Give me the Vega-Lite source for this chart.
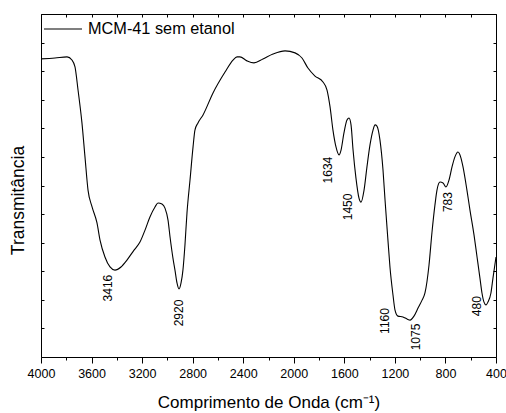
{
  "$schema": "https://vega.github.io/schema/vega-lite/v6.json",
  "width": 455,
  "height": 343,
  "autosize": {"type": "none"},
  "padding": {"left": 41, "top": 14, "right": 10, "bottom": 56},
  "background": "white",
  "config": {
    "view": {"stroke": "#000", "strokeWidth": 1},
    "font": "Liberation Sans",
    "axis": {"grid": false, "domain": false, "tickColor": "#000", "labelColor": "#000", "titleColor": "#000", "labelFont": "Liberation Sans", "titleFont": "Liberation Sans", "titleFontWeight": "normal"}
  },
  "datasets": {
    "spectrum": [
      {"wn": 4000, "t": 10.43}, {"wn": 3889, "t": 10.46}, {"wn": 3794, "t": 10.5}, {"wn": 3755, "t": 10.39},
      {"wn": 3731, "t": 10.15}, {"wn": 3707, "t": 9.34}, {"wn": 3676, "t": 8.19}, {"wn": 3652, "t": 7.0},
      {"wn": 3628, "t": 5.84}, {"wn": 3596, "t": 5.25}, {"wn": 3557, "t": 4.69}, {"wn": 3533, "t": 4.09},
      {"wn": 3494, "t": 3.5}, {"wn": 3454, "t": 3.15}, {"wn": 3415, "t": 3.04}, {"wn": 3367, "t": 3.15},
      {"wn": 3320, "t": 3.39}, {"wn": 3264, "t": 3.74}, {"wn": 3217, "t": 4.02}, {"wn": 3177, "t": 4.44},
      {"wn": 3138, "t": 4.9}, {"wn": 3098, "t": 5.25}, {"wn": 3074, "t": 5.39}, {"wn": 3043, "t": 5.35},
      {"wn": 3019, "t": 5.21}, {"wn": 2995, "t": 4.79}, {"wn": 2979, "t": 4.2}, {"wn": 2956, "t": 3.46},
      {"wn": 2940, "t": 3.04}, {"wn": 2924, "t": 2.59}, {"wn": 2908, "t": 2.38}, {"wn": 2892, "t": 2.59},
      {"wn": 2877, "t": 3.04}, {"wn": 2861, "t": 3.92}, {"wn": 2845, "t": 5.04}, {"wn": 2821, "t": 6.19},
      {"wn": 2797, "t": 7.35}, {"wn": 2782, "t": 7.94}, {"wn": 2758, "t": 8.19}, {"wn": 2718, "t": 8.47},
      {"wn": 2639, "t": 9.24}, {"wn": 2544, "t": 9.97}, {"wn": 2481, "t": 10.39}, {"wn": 2449, "t": 10.5},
      {"wn": 2426, "t": 10.5}, {"wn": 2370, "t": 10.36}, {"wn": 2315, "t": 10.29}, {"wn": 2244, "t": 10.43},
      {"wn": 2164, "t": 10.6}, {"wn": 2069, "t": 10.71}, {"wn": 1990, "t": 10.64}, {"wn": 1935, "t": 10.46},
      {"wn": 1888, "t": 10.11}, {"wn": 1832, "t": 9.83}, {"wn": 1769, "t": 9.62}, {"wn": 1737, "t": 9.34},
      {"wn": 1713, "t": 8.75}, {"wn": 1690, "t": 7.94}, {"wn": 1666, "t": 7.35}, {"wn": 1642, "t": 7.07},
      {"wn": 1626, "t": 7.24}, {"wn": 1603, "t": 7.84}, {"wn": 1579, "t": 8.29}, {"wn": 1563, "t": 8.36},
      {"wn": 1547, "t": 8.12}, {"wn": 1531, "t": 7.24}, {"wn": 1508, "t": 6.26}, {"wn": 1484, "t": 5.56},
      {"wn": 1468, "t": 5.42}, {"wn": 1444, "t": 5.84}, {"wn": 1421, "t": 6.65}, {"wn": 1397, "t": 7.42},
      {"wn": 1373, "t": 7.94}, {"wn": 1357, "t": 8.12}, {"wn": 1342, "t": 8.08}, {"wn": 1318, "t": 7.59},
      {"wn": 1294, "t": 6.54}, {"wn": 1278, "t": 5.49}, {"wn": 1255, "t": 4.09}, {"wn": 1239, "t": 3.15},
      {"wn": 1215, "t": 2.17}, {"wn": 1199, "t": 1.64}, {"wn": 1176, "t": 1.43}, {"wn": 1136, "t": 1.4},
      {"wn": 1104, "t": 1.33}, {"wn": 1080, "t": 1.29}, {"wn": 1049, "t": 1.43}, {"wn": 1017, "t": 1.71},
      {"wn": 985, "t": 1.99}, {"wn": 962, "t": 2.24}, {"wn": 930, "t": 3.22}, {"wn": 907, "t": 4.34},
      {"wn": 883, "t": 5.32}, {"wn": 867, "t": 5.84}, {"wn": 843, "t": 6.12}, {"wn": 819, "t": 6.09},
      {"wn": 796, "t": 5.95}, {"wn": 772, "t": 6.19}, {"wn": 748, "t": 6.65}, {"wn": 725, "t": 7.0},
      {"wn": 701, "t": 7.17}, {"wn": 677, "t": 6.96}, {"wn": 661, "t": 6.65}, {"wn": 630, "t": 5.84},
      {"wn": 606, "t": 5.14}, {"wn": 574, "t": 4.27}, {"wn": 550, "t": 3.5}, {"wn": 527, "t": 2.76},
      {"wn": 511, "t": 2.24}, {"wn": 495, "t": 1.92}, {"wn": 479, "t": 1.82}, {"wn": 464, "t": 1.92},
      {"wn": 440, "t": 2.24}, {"wn": 424, "t": 2.76}, {"wn": 400, "t": 3.5}
    ],
    "peaks": [
      {"wn": 3470, "t": 2.41, "label": "3416"},
      {"wn": 2912, "t": 1.54, "label": "2920"},
      {"wn": 1733, "t": 6.54, "label": "1634"},
      {"wn": 1571, "t": 5.25, "label": "1450"},
      {"wn": 780, "t": 5.42, "label": "783"},
      {"wn": 1278, "t": 1.26, "label": "1160"},
      {"wn": 1033, "t": 0.7, "label": "1075"},
      {"wn": 550, "t": 1.78, "label": "480"}
    ]
  },
  "layer": [
    {
      "data": {"name": "spectrum"},
      "mark": {"type": "line", "interpolate": "monotone", "strokeWidth": 1.1},
      "encoding": {
        "x": {"field": "wn", "type": "quantitative", "scale": {"domain": [4000, 400], "nice": false},
          "axis": {"orient": "bottom", "values": [4000, 3600, 3200, 2800, 2400, 2000, 1600, 1200, 800, 400], "format": "d", "tickSize": 6, "labelFontSize": 12.5, "labelPadding": 4, "labelFlush": false, "labelOverlap": false, "labelBound": false, "title": "Comprimento de Onda (cm⁻¹)", "titleFontSize": 17, "titlePadding": 15}},
        "y": {"field": "t", "type": "quantitative", "scale": {"domain": [0, 12], "nice": false, "zero": false},
          "axis": {"orient": "left", "values": [0, 1, 2, 3, 4, 5, 6, 7, 8, 9, 10, 11, 12], "tickSize": -3, "labels": false, "title": "Transmitância", "titleFontSize": 17.5, "titlePadding": 13, "titleY": 186}},
        "order": {"field": "wn", "sort": "descending"},
        "color": {"datum": "MCM-41 sem etanol", "scale": {"range": ["#000"]},
          "legend": {"orient": "none", "legendX": 2, "legendY": -5, "padding": 0, "title": null, "symbolType": "stroke", "symbolSize": 1444, "symbolStrokeWidth": 1.1, "labelFontSize": 16.3, "labelOffset": 5, "labelColor": "#000", "labelFont": "Liberation Sans"}}
      }
    },
    {
      "data": {"name": "peaks"},
      "mark": {"type": "text", "angle": 270, "fontSize": 12, "align": "center", "baseline": "middle", "color": "#000"},
      "encoding": {
        "x": {"field": "wn", "type": "quantitative", "axis": {"orient": "bottom", "values": [3800, 3400, 3000, 2600, 2200, 1800, 1400, 1000, 600], "tickSize": 3, "labels": false, "title": null}},
        "y": {"field": "t", "type": "quantitative", "axis": {"orient": "right", "values": [0, 1, 2, 3, 4, 5, 6, 7, 8, 9, 10, 11, 12], "tickSize": -3, "labels": false, "title": null}},
        "text": {"field": "label", "type": "nominal"}
      }
    },
    {
      "data": {"name": "peaks"},
      "mark": {"type": "point", "opacity": 0},
      "encoding": {
        "x": {"field": "wn", "type": "quantitative", "axis": {"orient": "top", "values": [4000, 3800, 3600, 3400, 3200, 3000, 2800, 2600, 2400, 2200, 2000, 1800, 1600, 1400, 1200, 1000, 800, 600, 400], "tickSize": -3, "labels": false, "title": null}},
        "y": {"field": "t", "type": "quantitative", "axis": null}
      }
    }
  ],
  "resolve": {"axis": {"x": "independent", "y": "independent"}}
}
